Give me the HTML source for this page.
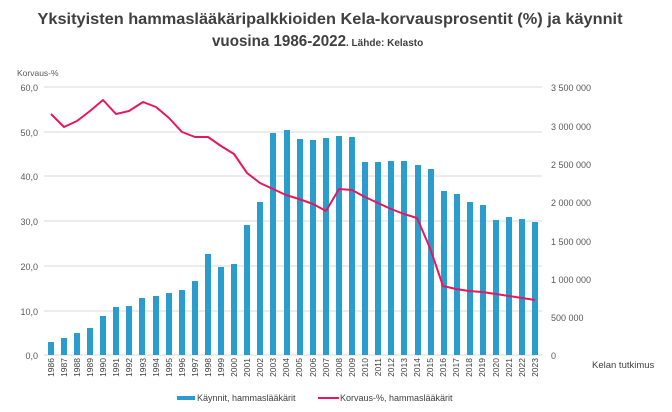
<!DOCTYPE html>
<html><head><meta charset="utf-8"><style>
html,body{margin:0;padding:0;background:#fff;}
svg{display:block;font-family:"Liberation Sans",sans-serif;}
</style></head><body>
<svg width="672" height="412" viewBox="0 0 672 412" xmlns="http://www.w3.org/2000/svg">
<text x="330" y="24" text-anchor="middle" font-size="16" font-weight="bold" fill="#404040" textLength="585" lengthAdjust="spacingAndGlyphs">Yksityisten hammaslääkäripalkkioiden Kela-korvausprosentit (%) ja käynnit</text>
<text x="212" y="46" font-size="16" font-weight="bold" fill="#404040" textLength="134" lengthAdjust="spacingAndGlyphs">vuosina 1986-2022</text>
<text x="346" y="46" font-size="10" font-weight="bold" fill="#404040">. Lähde: Kelasto</text>
<g stroke="#d9d9d9" stroke-width="1">
<line x1="44" y1="87" x2="542" y2="87"/><line x1="44" y1="132" x2="542" y2="132"/><line x1="44" y1="176" x2="542" y2="176"/><line x1="44" y1="221" x2="542" y2="221"/><line x1="44" y1="266" x2="542" y2="266"/><line x1="44" y1="311" x2="542" y2="311"/><line x1="44" y1="355" x2="542" y2="355"/>
</g>
<g font-size="9" fill="#595959" text-anchor="end">
<text x="38" y="91">60,0</text><text x="38" y="136">50,0</text><text x="38" y="180">40,0</text><text x="38" y="225">30,0</text><text x="38" y="270">20,0</text><text x="38" y="315">10,0</text><text x="38" y="359">0,0</text>
</g>
<text x="17" y="76" font-size="8.5" fill="#595959">Korvaus-%</text>
<g font-size="9" fill="#595959">
<text x="551" y="91">3 500 000</text><text x="551" y="130">3 000 000</text><text x="551" y="168">2 500 000</text><text x="551" y="206">2 000 000</text><text x="551" y="245">1 500 000</text><text x="551" y="283">1 000 000</text><text x="551" y="321">500 000</text><text x="551" y="359">0</text>
</g>
<text x="592" y="368" font-size="9.5" fill="#404040">Kelan tutkimus</text>
<g fill="#2a9ccd">
<rect x="48" y="342" width="6" height="13"/><rect x="61" y="338" width="6" height="17"/><rect x="74" y="333" width="6" height="22"/><rect x="87" y="328" width="6" height="27"/><rect x="100" y="316" width="6" height="39"/><rect x="113" y="307" width="6" height="48"/><rect x="126" y="306" width="6" height="49"/><rect x="139" y="298" width="6" height="57"/><rect x="153" y="296" width="6" height="59"/><rect x="166" y="293" width="6" height="62"/><rect x="179" y="290" width="6" height="65"/><rect x="192" y="281" width="6" height="74"/><rect x="205" y="254" width="6" height="101"/><rect x="218" y="267" width="6" height="88"/><rect x="231" y="264" width="6" height="91"/><rect x="244" y="225" width="6" height="130"/><rect x="257" y="202" width="6" height="153"/><rect x="270" y="133" width="6" height="222"/><rect x="284" y="130" width="6" height="225"/><rect x="297" y="139" width="6" height="216"/><rect x="310" y="140" width="6" height="215"/><rect x="323" y="138" width="6" height="217"/><rect x="336" y="136" width="6" height="219"/><rect x="349" y="137" width="6" height="218"/><rect x="362" y="162" width="6" height="193"/><rect x="375" y="162" width="6" height="193"/><rect x="388" y="161" width="6" height="194"/><rect x="401" y="161" width="6" height="194"/><rect x="415" y="165" width="6" height="190"/><rect x="428" y="169" width="6" height="186"/><rect x="441" y="191" width="6" height="164"/><rect x="454" y="194" width="6" height="161"/><rect x="467" y="202" width="6" height="153"/><rect x="480" y="205" width="6" height="150"/><rect x="493" y="220" width="6" height="135"/><rect x="506" y="217" width="6" height="138"/><rect x="519" y="219" width="6" height="136"/><rect x="532" y="222" width="6" height="133"/>
</g>
<polyline fill="none" stroke="#e8175d" stroke-width="2" stroke-linejoin="round" points="51,114 64,127 77,121 90,111 103,100 116,114 129,111 143,102 156,107 169,118 182,132 195,137 208,137 221,146 234,154 247,173 260,183 273,189 286,195 299,199 313,204 326,211 339,189 352,190 365,197 378,203 391,209 404,214 417,218 430,248 443,286 456,289 469,291 482,292 496,294 509,296 522,298 535,300"/>
<g font-size="8.5" fill="#404040" text-anchor="end">
<text transform="translate(54,358) rotate(-90)">1986</text><text transform="translate(67,358) rotate(-90)">1987</text><text transform="translate(80,358) rotate(-90)">1988</text><text transform="translate(93,358) rotate(-90)">1989</text><text transform="translate(106,358) rotate(-90)">1990</text><text transform="translate(119,358) rotate(-90)">1991</text><text transform="translate(132,358) rotate(-90)">1992</text><text transform="translate(146,358) rotate(-90)">1993</text><text transform="translate(159,358) rotate(-90)">1994</text><text transform="translate(172,358) rotate(-90)">1995</text><text transform="translate(185,358) rotate(-90)">1996</text><text transform="translate(198,358) rotate(-90)">1997</text><text transform="translate(211,358) rotate(-90)">1998</text><text transform="translate(224,358) rotate(-90)">1999</text><text transform="translate(237,358) rotate(-90)">2000</text><text transform="translate(250,358) rotate(-90)">2001</text><text transform="translate(263,358) rotate(-90)">2002</text><text transform="translate(276,358) rotate(-90)">2003</text><text transform="translate(289,358) rotate(-90)">2004</text><text transform="translate(302,358) rotate(-90)">2005</text><text transform="translate(316,358) rotate(-90)">2006</text><text transform="translate(329,358) rotate(-90)">2007</text><text transform="translate(342,358) rotate(-90)">2008</text><text transform="translate(355,358) rotate(-90)">2009</text><text transform="translate(368,358) rotate(-90)">2010</text><text transform="translate(381,358) rotate(-90)">2011</text><text transform="translate(394,358) rotate(-90)">2012</text><text transform="translate(407,358) rotate(-90)">2013</text><text transform="translate(420,358) rotate(-90)">2014</text><text transform="translate(433,358) rotate(-90)">2015</text><text transform="translate(446,358) rotate(-90)">2016</text><text transform="translate(459,358) rotate(-90)">2017</text><text transform="translate(472,358) rotate(-90)">2018</text><text transform="translate(485,358) rotate(-90)">2019</text><text transform="translate(499,358) rotate(-90)">2020</text><text transform="translate(512,358) rotate(-90)">2021</text><text transform="translate(525,358) rotate(-90)">2022</text><text transform="translate(538,358) rotate(-90)">2023</text>
</g>
<rect x="177" y="396" width="18" height="4" fill="#2a9ccd"/>
<text x="197" y="401" font-size="9" fill="#404040">Käynnit, hammaslääkärit</text>
<line x1="318" y1="398" x2="339" y2="398" stroke="#e8175d" stroke-width="2"/>
<text x="340" y="401" font-size="9" fill="#404040">Korvaus-%, hammaslääkärit</text>
</svg>
</body></html>
